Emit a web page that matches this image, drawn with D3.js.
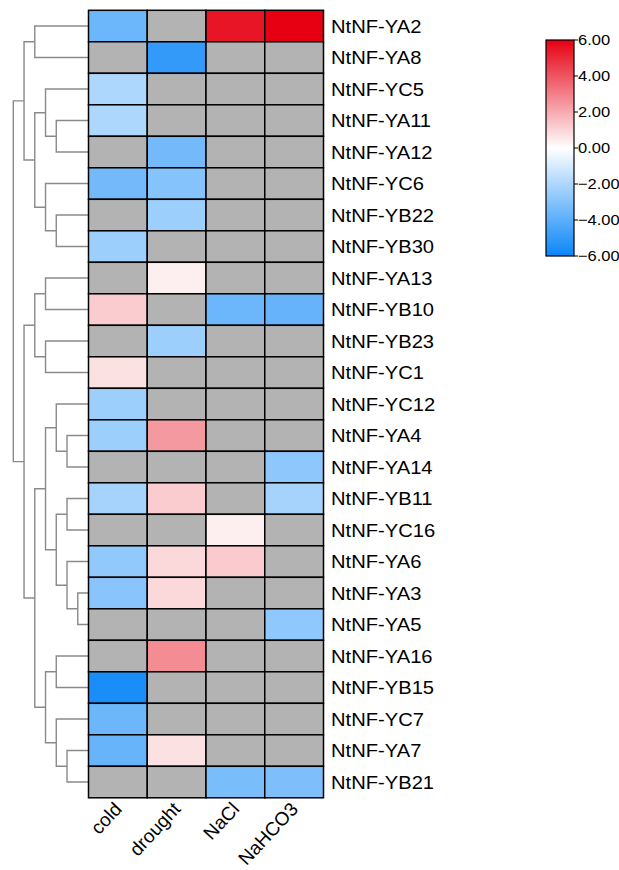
<!DOCTYPE html>
<html>
<head>
<meta charset="utf-8">
<script src="https://cdn.jsdelivr.net/npm/d3@7"></script>
<style>
  body { margin: 0; background: #fff; }
  svg text { font-family: Arial, "Liberation Sans", sans-serif; fill: #000; }
</style>
</head>
<body>
<svg id="chart" width="619" height="870"></svg>
<script>
"use strict";

// row order as in the clustered heatmap
var genes = ["NtNF-YA2", "NtNF-YA8", "NtNF-YC5", "NtNF-YA11", "NtNF-YA12", "NtNF-YC6",
  "NtNF-YB22", "NtNF-YB30", "NtNF-YA13", "NtNF-YB10", "NtNF-YB23", "NtNF-YC1",
  "NtNF-YC12", "NtNF-YA4", "NtNF-YA14", "NtNF-YB11", "NtNF-YC16", "NtNF-YA6",
  "NtNF-YA3", "NtNF-YA5", "NtNF-YA16", "NtNF-YB15", "NtNF-YC7", "NtNF-YA7", "NtNF-YB21"];

var treatments = ["cold", "drought", "NaCl", "NaHCO3"];

// one array per treatment, null = no value (grey)
var cold    = [-3.6, null, -2.0, -2.0, null, -3.4, null, -2.4, null, 1.2, null, 0.7,
  -2.4, -2.4, null, -2.2, null, -2.7, -2.9, null, null, -5.6, -3.6, -3.7, null];
var drought = [null, -5.0, null, null, -3.4, -3.0, -2.4, null, 0.4, null, -2.4, null,
  null, 2.4, null, 1.2, null, 0.9, 0.9, null, 2.7, null, null, 0.7, null];
var nacl    = [5.5, null, null, null, null, null, null, null, null, -3.6, null, null,
  null, null, null, null, 0.4, 1.25, null, null, null, null, null, null, -3.25];
var nahco3  = [6.0, null, null, null, null, null, null, null, null, -3.75, null, null,
  null, null, -2.8, -2.2, null, null, null, -2.75, null, null, null, null, -3.15];

// dendrogram merges: [left, right, height]; "mN" = result of merge N
var merges = [
  ["NtNF-YA11", "NtNF-YA12", 3], ["NtNF-YC5", "m0", 4], ["NtNF-YB22", "NtNF-YB30", 3],
  ["NtNF-YC6", "m2", 4], ["m1", "m3", 5], ["NtNF-YA2", "NtNF-YA8", 5], ["m5", "m4", 6],
  ["NtNF-YA13", "NtNF-YB10", 4], ["NtNF-YB23", "NtNF-YC1", 4], ["m7", "m8", 5],
  ["NtNF-YA4", "NtNF-YA14", 2], ["NtNF-YC12", "m10", 3], ["NtNF-YB11", "NtNF-YC16", 2],
  ["NtNF-YA3", "NtNF-YA5", 1], ["NtNF-YA6", "m13", 2], ["m12", "m14", 3], ["m11", "m15", 4],
  ["NtNF-YA16", "NtNF-YB15", 3], ["NtNF-YA7", "NtNF-YB21", 2], ["NtNF-YC7", "m18", 3],
  ["m17", "m19", 4], ["m16", "m20", 5], ["m9", "m21", 6], ["m6", "m22", 7]];

var legendTicks = [6, 4, 2, 0, -2, -4, -6];

var series = [cold, drought, nacl, nahco3];
var cells = [];
genes.forEach(function (g, i) {
  treatments.forEach(function (t, j) {
    cells.push({ gene: g, treatment: t, value: series[j][i] });
  });
});

var svg = d3.select("#chart");

var x = d3.scaleBand().domain(treatments).range([88.5, 323.5]);
var y = d3.scaleBand().domain(genes).range([10.3, 797.8]);
var color = d3.scaleLinear().domain([-6, 0, 6]).range(["#0a86f8", "#ffffff", "#e60012"]);
var hx = d3.scaleLinear().domain([0, 7]).range([88.5, 13.3]);

// dendrogram
var pos = {};
genes.forEach(function (g) {
  pos[g] = { x: hx(0), y: y(g) + y.bandwidth() / 2 };
});
var tree = svg.append("g").attr("class", "dendro");
merges.forEach(function (m, i) {
  var a = pos[m[0]], b = pos[m[1]];
  var nx = hx(m[2]);
  pos["m" + i] = { x: nx, y: (a.y + b.y) / 2 };
  tree.append("path")
    .attr("d", "M" + a.x + "," + a.y + "H" + nx + "V" + b.y + "H" + b.x)
    .attr("fill", "none")
    .attr("stroke", "#8a8a8a")
    .attr("stroke-width", 1.4);
});

// heatmap cells
svg.append("g").selectAll("rect").data(cells).enter().append("rect")
  .attr("x", function (d) { return x(d.treatment); })
  .attr("y", function (d) { return y(d.gene); })
  .attr("width", x.bandwidth())
  .attr("height", y.bandwidth())
  .attr("fill", function (d) { return d.value === null ? "#b3b3b3" : color(d.value); })
  .attr("stroke", "#000")
  .attr("stroke-width", 1.5);

// row labels (glyphs a bit wide in the original, so stretch slightly)
svg.append("g").selectAll("text").data(genes).enter().append("text")
  .attr("transform", function (d) {
    return "translate(331," + (y(d) + y.bandwidth() / 2) + ") scale(1.12,1)";
  })
  .attr("dy", "0.36em")
  .style("font-size", "18px")
  .text(function (d) { return d; });

// column labels, rotated
svg.append("g").selectAll("text").data(treatments).enter().append("text")
  .attr("transform", function (d) {
    return "translate(" + (x(d) + x.bandwidth() / 2 + 5) + ",810) rotate(-47)";
  })
  .attr("text-anchor", "end")
  .style("font-size", "19px")
  .text(function (d) { return d; });

// colour legend
var ly = d3.scaleLinear().domain([6, -6]).range([40, 256]);
var grad = svg.append("defs").append("linearGradient")
  .attr("id", "lg").attr("x1", 0).attr("y1", 0).attr("x2", 0).attr("y2", 1);
[6, 0, -6].forEach(function (v) {
  grad.append("stop")
    .attr("offset", (ly(v) - 40) / 216)
    .attr("stop-color", color(v));
});
var legend = svg.append("g").attr("class", "legend");
legend.append("rect")
  .attr("x", 546).attr("y", 40).attr("width", 28).attr("height", 216)
  .attr("fill", "url(#lg)").attr("stroke", "#000").attr("stroke-width", 1.2);
legend.selectAll("line").data(legendTicks).enter().append("line")
  .attr("x1", 574).attr("x2", 578)
  .attr("y1", function (d) { return ly(d); })
  .attr("y2", function (d) { return ly(d); })
  .attr("stroke", "#000");
legend.selectAll("text").data(legendTicks).enter().append("text")
  .attr("transform", function (d) { return "translate(578," + ly(d) + ") scale(1.1,1)"; })
  .attr("dy", "0.36em")
  .style("font-size", "15px")
  .text(function (d) { return d3.format(".2f")(d); });
</script>
</body>
</html>
